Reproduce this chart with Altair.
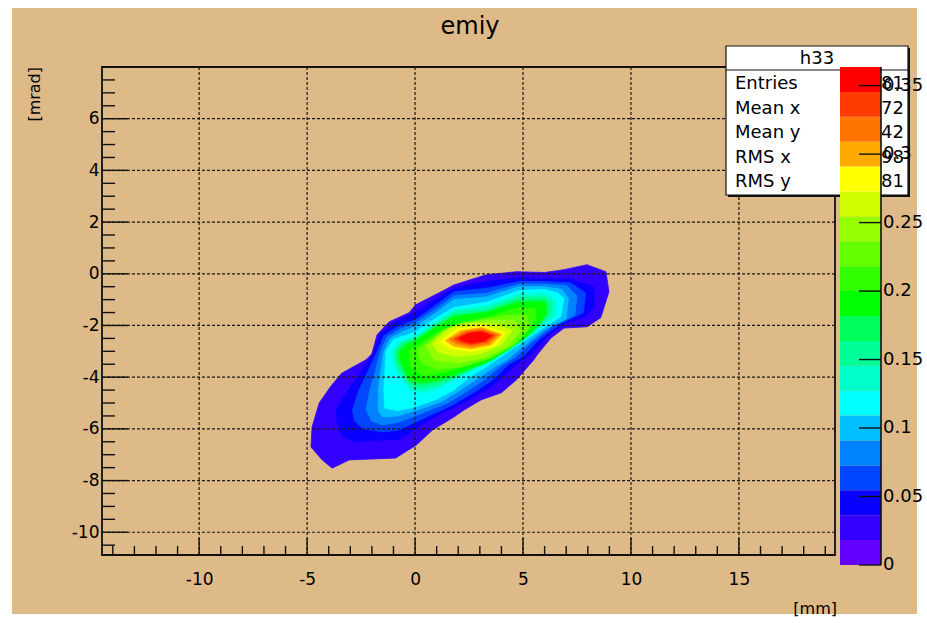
import altair as alt
import pandas as pd

# ---------------- chart text ----------------
title_text = "emiy"
x_title = "[mm]"
y_title = "[mrad]"

# ---------------- axes ----------------
x_domain = [-14.5, 19.45]
y_domain = [-10.88, 8.0]
x_major = [-10, -5, 0, 5, 10, 15]
x_minor = [-14, -13, -12, -11, -9, -8, -7, -6, -4, -3, -2, -1, 1, 2, 3, 4,
           6, 7, 8, 9, 11, 12, 13, 14, 16, 17, 18, 19]
y_major = [-10, -8, -6, -4, -2, 0, 2, 4, 6]
y_minor = [-10.5, -9.5, -9, -8.5, -7.5, -7, -6.5, -5.5, -5, -4.5, -3.5, -3,
           -2.5, -1.5, -1, -0.5, 0.5, 1, 1.5, 2.5, 3, 3.5, 4.5, 5, 5.5, 6.5,
           7, 7.5]

# ---------------- colour scale (20 contour bands) ----------------
contour_levels = [0.0, 0.0182, 0.0364, 0.0545, 0.0727, 0.0909, 0.1091,
                  0.1273, 0.1454, 0.1636, 0.1818, 0.2, 0.2182, 0.2363,
                  0.2545, 0.2727, 0.2909, 0.3091, 0.3272, 0.3454, 0.3636]
palette = ["#6400ff", "#3200ff", "#0a00ff", "#0046ff", "#0082ff", "#00beff",
           "#00ffff", "#00ffc8", "#00ff96", "#00ff5a", "#00ff00", "#32ff00",
           "#64ff00", "#96ff00", "#d2ff00", "#ffff00", "#ffaa00", "#ff7300",
           "#ff3c00", "#ff0000"]
cbar_ticks = [0, 0.05, 0.1, 0.15, 0.2, 0.25, 0.3, 0.35]
cbar_labels = ["0", "0.05", "0.1", "0.15", "0.2", "0.25", "0.3", "0.35"]

# ---------------- statistics box ----------------
stats_name = "h33"
stats_rows = ["Entries", "Mean x", "Mean y", "RMS x", "RMS y"]
stats_values = ["81", "72", "42", "98", "81"]

# ---------------- contour outlines, band 1 (outermost) to band 19 ----------------
band_01 = [(-4.82, -6.7), (-4.77, -5.93), (-4.44, -5.0), (-3.9, -4.35), (-3.4, -3.85),
           (-2.28, -3.33), (-2.0, -3.1), (-1.76, -2.36), (-1.2, -1.86), (-0.28, -1.51),
           (0.03, -1.2), (1.1, -0.74), (1.8, -0.43), (3.3, -0.04), (4.7, 0.08),
           (6.0, 0.05), (6.9, 0.16), (7.96, 0.35), (8.84, 0.08), (8.98, -0.7),
           (8.6, -1.7), (7.96, -2.05), (6.9, -2.1), (6.3, -2.48), (5.65, -3.14),
           (5.5, -3.33), (4.7, -4.1), (4.0, -4.6), (3.05, -4.88), (2.27, -5.27),
           (1.8, -5.54), (0.8, -6.05), (0.05, -6.63), (-0.9, -7.13), (-3.05, -7.2),
           (-3.84, -7.52), (-4.3, -7.2)]
band_02 = [(-3.66, -5.27), (-3.1, -4.5), (-2.5, -3.8), (-1.9, -3.0), (-1.6, -2.3),
           (-1.0, -1.9), (0.0, -1.5), (0.9, -1.0), (1.8, -0.56), (3.3, -0.3),
           (4.8, -0.15), (6.0, -0.2), (7.2, -0.2), (8.3, -0.5), (8.3, -1.3),
           (7.8, -1.7), (7.0, -1.9), (6.2, -2.35), (5.4, -3.1), (4.7, -3.5),
           (4.0, -4.05), (3.3, -4.5), (2.2, -5.0), (1.0, -5.5), (0.0, -6.0),
           (-0.7, -6.4), (-1.5, -6.43), (-2.8, -6.5), (-3.4, -6.25), (-3.6, -5.8)]
band_03 = [(-2.9, -5.27), (-2.6, -4.5), (-2.2, -3.8), (-1.75, -3.0), (-1.45, -2.4),
           (-0.8, -2.05), (0.0, -1.78), (0.9, -1.25), (1.8, -0.7), (3.3, -0.56),
           (4.8, -0.3), (6.0, -0.3), (7.2, -0.35), (7.9, -0.75), (7.8, -1.5),
           (6.8, -1.9), (5.8, -2.5), (5.0, -3.2), (4.35, -3.5), (3.6, -4.1),
           (2.9, -4.5), (1.8, -5.05), (0.0, -5.75), (-0.8, -6.05), (-1.5, -6.12),
           (-2.4, -6.0), (-2.8, -5.7)]
band_04 = [(-2.27, -5.27), (-2.1, -4.5), (-1.85, -3.8), (-1.6, -3.0), (-1.3, -2.45),
           (-0.7, -2.15), (0.0, -1.9), (0.9, -1.4), (1.8, -0.85), (3.3, -0.75),
           (4.8, -0.4), (6.0, -0.4), (7.0, -0.45), (7.5, -0.85), (7.4, -1.6),
           (6.4, -2.0), (5.4, -2.65), (4.6, -3.25), (4.0, -3.55), (3.2, -4.1),
           (2.5, -4.5), (1.5, -5.0), (0.0, -5.5), (-0.8, -5.75), (-1.5, -5.85),
           (-2.0, -5.7)]
band_05 = [(-1.7, -5.3), (-1.7, -4.5), (-1.6, -3.8), (-1.45, -3.0), (-1.15, -2.5),
           (-0.6, -2.25), (0.0, -2.05), (0.9, -1.55), (1.8, -1.0), (3.3, -0.9),
           (4.8, -0.5), (6.0, -0.5), (6.8, -0.6), (7.1, -0.95), (7.0, -1.75),
           (6.0, -2.15), (5.1, -2.75), (4.3, -3.3), (3.7, -3.6), (2.9, -4.05),
           (2.1, -4.5), (1.2, -4.95), (0.0, -5.3), (-0.8, -5.5), (-1.5, -5.54)]
band_06 = [(-1.4, -5.2), (-1.45, -4.5), (-1.4, -3.8), (-1.35, -3.0), (-1.0, -2.55),
           (0.0, -2.25), (0.9, -1.75), (1.8, -1.3), (3.3, -1.1), (4.8, -0.65),
           (6.0, -0.6), (6.6, -0.75), (6.9, -0.95), (6.75, -1.66), (5.65, -2.25),
           (4.8, -2.75), (4.0, -3.2), (3.4, -3.55), (2.6, -3.95), (1.8, -4.5),
           (1.0, -4.85), (0.0, -5.15), (-0.8, -5.3)]
band_07 = [(-1.05, -3.0), (-0.7, -2.6), (0.0, -2.44), (0.9, -1.9), (1.8, -1.4),
           (3.3, -1.25), (4.8, -0.8), (6.0, -0.75), (6.5, -1.0), (6.5, -1.6),
           (5.6, -2.2), (4.6, -2.8), (3.6, -3.3), (3.0, -3.55), (2.0, -4.0),
           (1.2, -4.4), (0.4, -4.6), (-0.2, -4.5), (-0.7, -4.0), (-1.0, -3.5)]
band_08 = [(-0.95, -3.0), (-0.6, -2.65), (0.0, -2.5), (0.9, -1.98), (1.8, -1.5),
           (3.3, -1.35), (4.8, -0.9), (6.0, -0.9), (6.35, -1.1), (6.3, -1.6),
           (5.5, -2.25), (4.5, -2.85), (3.5, -3.35), (2.9, -3.6), (1.9, -4.0),
           (1.1, -4.3), (0.3, -4.45), (-0.2, -4.35), (-0.6, -3.9), (-0.9, -3.45)]
band_09 = [(-0.85, -3.0), (-0.5, -2.7), (0.0, -2.55), (0.9, -2.05), (1.8, -1.6),
           (3.3, -1.45), (4.8, -1.0), (6.0, -1.0), (6.2, -1.2), (6.1, -1.6),
           (5.4, -2.3), (4.4, -2.9), (3.4, -3.4), (2.8, -3.6), (1.8, -4.0),
           (1.0, -4.2), (0.3, -4.3), (-0.2, -4.2), (-0.5, -3.8), (-0.8, -3.4)]
band_10 = [(-0.7, -3.0), (-0.4, -2.75), (0.0, -2.6), (0.9, -2.1), (1.8, -1.66),
           (3.3, -1.5), (4.8, -1.1), (6.0, -1.1), (6.1, -1.5), (5.8, -1.9),
           (5.2, -2.4), (4.3, -2.95), (3.3, -3.45), (2.6, -3.65), (1.6, -3.95),
           (0.8, -4.15), (0.2, -4.2), (-0.3, -4.1), (-0.5, -3.7), (-0.7, -3.3)]
band_11 = [(-0.3, -3.0), (0.4, -2.6), (1.3, -2.15), (2.3, -1.85), (3.5, -1.65),
           (4.8, -1.3), (5.6, -1.35), (5.6, -1.8), (4.9, -2.5), (3.9, -3.1),
           (2.6, -3.5), (1.4, -3.8), (0.4, -3.95), (-0.2, -3.6)]
band_12 = [(0.1, -2.95), (0.9, -2.45), (1.8, -2.0), (3.0, -1.8), (4.3, -1.6),
           (5.2, -1.6), (5.3, -2.1), (4.6, -2.75), (3.5, -3.25), (2.2, -3.6),
           (1.0, -3.7), (0.3, -3.45)]
band_13 = [(0.5, -2.8), (1.3, -2.2), (2.2, -1.9), (3.5, -1.8), (4.6, -1.8),
           (4.9, -2.2), (4.3, -2.8), (3.2, -3.25), (2.0, -3.45), (0.9, -3.35)]
band_14 = [(0.8, -2.7), (1.6, -2.1), (2.8, -1.9), (3.8, -1.95), (4.5, -2.2),
           (4.0, -2.75), (3.0, -3.1), (1.9, -3.2), (1.1, -3.05)]
band_15 = [(1.15, -2.62), (1.9, -2.15), (3.1, -2.0), (4.2, -2.3), (3.7, -2.8),
           (2.6, -3.0), (1.6, -2.9)]
band_16 = [(1.4, -2.58), (2.1, -2.2), (3.1, -2.08), (4.0, -2.34), (3.5, -2.76),
           (2.6, -2.9), (1.8, -2.8)]
band_17 = [(1.6, -2.55), (2.3, -2.22), (3.1, -2.14), (3.85, -2.36), (3.4, -2.7),
           (2.6, -2.82), (1.95, -2.72)]
band_18 = [(1.8, -2.52), (2.4, -2.27), (3.1, -2.2), (3.7, -2.38), (3.3, -2.64),
           (2.6, -2.74), (2.1, -2.66)]
band_19 = [(2.0, -2.5), (2.5, -2.3), (3.1, -2.25), (3.55, -2.4), (3.2, -2.6),
           (2.6, -2.68), (2.2, -2.6)]

bands = [band_01, band_02, band_03, band_04, band_05, band_06, band_07,
         band_08, band_09, band_10, band_11, band_12, band_13, band_14,
         band_15, band_16, band_17, band_18, band_19]

# ---------------- layout (plot frame in pixels) ----------------
W, H = 733, 488
FONT = "DejaVu Sans"
TAN = "#ddba88"

xs = alt.Scale(domain=x_domain, nice=False, zero=False)
ys = alt.Scale(domain=y_domain, nice=False, zero=False)
cs = alt.Scale(domain=[contour_levels[0], contour_levels[-1]], range=[498, 0],
               nice=False, zero=False)

# axis labels only; drawn above the page background (zindex 1)
x_axis = alt.Axis(values=x_major, title=None, ticks=False, domain=False,
                  grid=False, labelFont=FONT, labelFontSize=17,
                  labelColor="black", labelPadding=16, zindex=1,
                  labelExpr="datum.value + ''")
y_axis = alt.Axis(values=y_major, title=None, ticks=False, domain=False,
                  grid=False, labelFont=FONT, labelFontSize=17,
                  labelColor="black", labelPadding=3, zindex=1,
                  labelExpr="datum.value + ''")

one = pd.DataFrame({"k": [0]})

# page background
background = alt.Chart(one).mark_rect(fill=TAN).encode(
    x=alt.value(-90), x2=alt.value(815), y=alt.value(-59), y2=alt.value(547))

# filled contour bands, drawn from the outermost inward
contour_layers = []
for k, pts in enumerate(bands, start=1):
    ring = pts + [pts[0]]
    df = pd.DataFrame({"x": [p[0] for p in ring], "y": [p[1] for p in ring],
                       "i": list(range(len(ring)))})
    contour_layers.append(
        alt.Chart(df).mark_line(fill=palette[k], stroke=palette[k],
                                strokeWidth=0.8).encode(
            x=alt.X("x:Q", scale=xs, axis=x_axis),
            y=alt.Y("y:Q", scale=ys, axis=y_axis),
            order=alt.Order("i:Q")))

# dashed grid
grid_x = alt.Chart(pd.DataFrame({"v": x_major})).mark_rule(
    stroke="#1a1a1a", strokeDash=[3, 2], strokeWidth=1.2).encode(
    x=alt.X("v:Q", scale=xs, axis=x_axis), y=alt.value(0), y2=alt.value(H))
grid_y = alt.Chart(pd.DataFrame({"v": y_major})).mark_rule(
    stroke="#1a1a1a", strokeDash=[3, 2], strokeWidth=1.2).encode(
    y=alt.Y("v:Q", scale=ys, axis=y_axis), x=alt.value(0), x2=alt.value(W))

# inward tick marks
tick_style = dict(stroke="#111111", strokeWidth=1.4)
ticks_x_major = alt.Chart(pd.DataFrame({"v": x_major})).mark_rule(**tick_style).encode(
    x=alt.X("v:Q", scale=xs, axis=x_axis), y=alt.value(H), y2=alt.value(H - 17))
ticks_x_minor = alt.Chart(pd.DataFrame({"v": x_minor})).mark_rule(**tick_style).encode(
    x=alt.X("v:Q", scale=xs, axis=x_axis), y=alt.value(H), y2=alt.value(H - 9))
ticks_y_major = alt.Chart(pd.DataFrame({"v": y_major})).mark_rule(**tick_style).encode(
    y=alt.Y("v:Q", scale=ys, axis=y_axis), x=alt.value(0), x2=alt.value(26))
ticks_y_minor = alt.Chart(pd.DataFrame({"v": y_minor})).mark_rule(**tick_style).encode(
    y=alt.Y("v:Q", scale=ys, axis=y_axis), x=alt.value(0), x2=alt.value(13))

frame = alt.Chart(one).mark_rect(fillOpacity=0, stroke="#111111", strokeWidth=1.8).encode(
    x=alt.value(0), x2=alt.value(W), y=alt.value(0), y2=alt.value(H))

# titles
title = alt.Chart(one).mark_text(text=title_text, font=FONT, fontSize=24,
                                 align="center", baseline="alphabetic",
                                 color="black").encode(
    x=alt.value(368), y=alt.value(-33))
xlab = alt.Chart(one).mark_text(text=x_title, font=FONT, fontSize=16,
                                align="right", baseline="middle",
                                color="black").encode(
    x=alt.value(735), y=alt.value(542))
ylab = alt.Chart(one).mark_text(text=y_title, font=FONT, fontSize=16,
                                align="right", baseline="middle", angle=270,
                                color="black").encode(
    x=alt.value(-67), y=alt.value(0))

# statistics box
stats_layers = [
    alt.Chart(one).mark_rect(fill="#111111").encode(
        x=alt.value(626), x2=alt.value(808), y=alt.value(-19), y2=alt.value(130)),
    alt.Chart(one).mark_rect(fill="white", stroke="#111111", strokeWidth=1.2).encode(
        x=alt.value(624), x2=alt.value(806), y=alt.value(-21), y2=alt.value(128)),
    alt.Chart(one).mark_rule(stroke="#111111", strokeWidth=1.2).encode(
        x=alt.value(624), x2=alt.value(806), y=alt.value(3)),
    alt.Chart(one).mark_text(text=stats_name, font=FONT, fontSize=18,
                             align="center", baseline="middle", color="black").encode(
        x=alt.value(715), y=alt.value(-8)),
]
for i, (name, val) in enumerate(zip(stats_rows, stats_values)):
    row_y = 17 + i * 24.6
    stats_layers.append(alt.Chart(one).mark_text(
        text=name, font=FONT, fontSize=18, align="left", baseline="middle",
        color="black").encode(x=alt.value(633), y=alt.value(row_y)))
    stats_layers.append(alt.Chart(one).mark_text(
        text=val, font=FONT, fontSize=18, align="right", baseline="middle",
        color="black").encode(x=alt.value(802), y=alt.value(row_y)))

main = alt.layer(background, *contour_layers, grid_x, grid_y,
                 ticks_x_major, ticks_x_minor, ticks_y_major, ticks_y_minor,
                 frame, title, xlab, ylab, *stats_layers)

# colour bar with its own value scale
cbar_df = pd.DataFrame({"lo": contour_levels[:-1], "hi": contour_levels[1:],
                        "col": palette})
cbar_rects = alt.Chart(cbar_df).mark_rect().encode(
    y=alt.Y("lo:Q", scale=cs, axis=None), y2="hi:Q",
    x=alt.value(738), x2=alt.value(779),
    fill=alt.Fill("col:N", scale=None, legend=None))
cbar_line = alt.Chart(one).mark_rule(stroke="#111111", strokeWidth=1.6).encode(
    x=alt.value(779), y=alt.value(0), y2=alt.value(498))
tick_df = pd.DataFrame({"v": cbar_ticks, "label": cbar_labels})
cbar_ticks_mark = alt.Chart(tick_df).mark_rule(stroke="#111111", strokeWidth=1.4).encode(
    y=alt.Y("v:Q", scale=cs, axis=None), x=alt.value(757), x2=alt.value(779))
cbar_text = alt.Chart(tick_df).mark_text(font=FONT, fontSize=18, align="left",
                                          baseline="middle", color="black").encode(
    y=alt.Y("v:Q", scale=cs, axis=None), x=alt.value(781), text="label:N")
cbar = alt.layer(cbar_rects, cbar_line, cbar_ticks_mark, cbar_text)

chart = alt.layer(main, cbar).resolve_scale(y="independent").properties(
    width=W, height=H,
    padding={"left": 102, "top": 67, "right": 92, "bottom": 68},
    autosize="none", background="white",
).configure_view(strokeWidth=0)

chart.save("out.html", embed_options={"renderer": "svg", "actions": False})
